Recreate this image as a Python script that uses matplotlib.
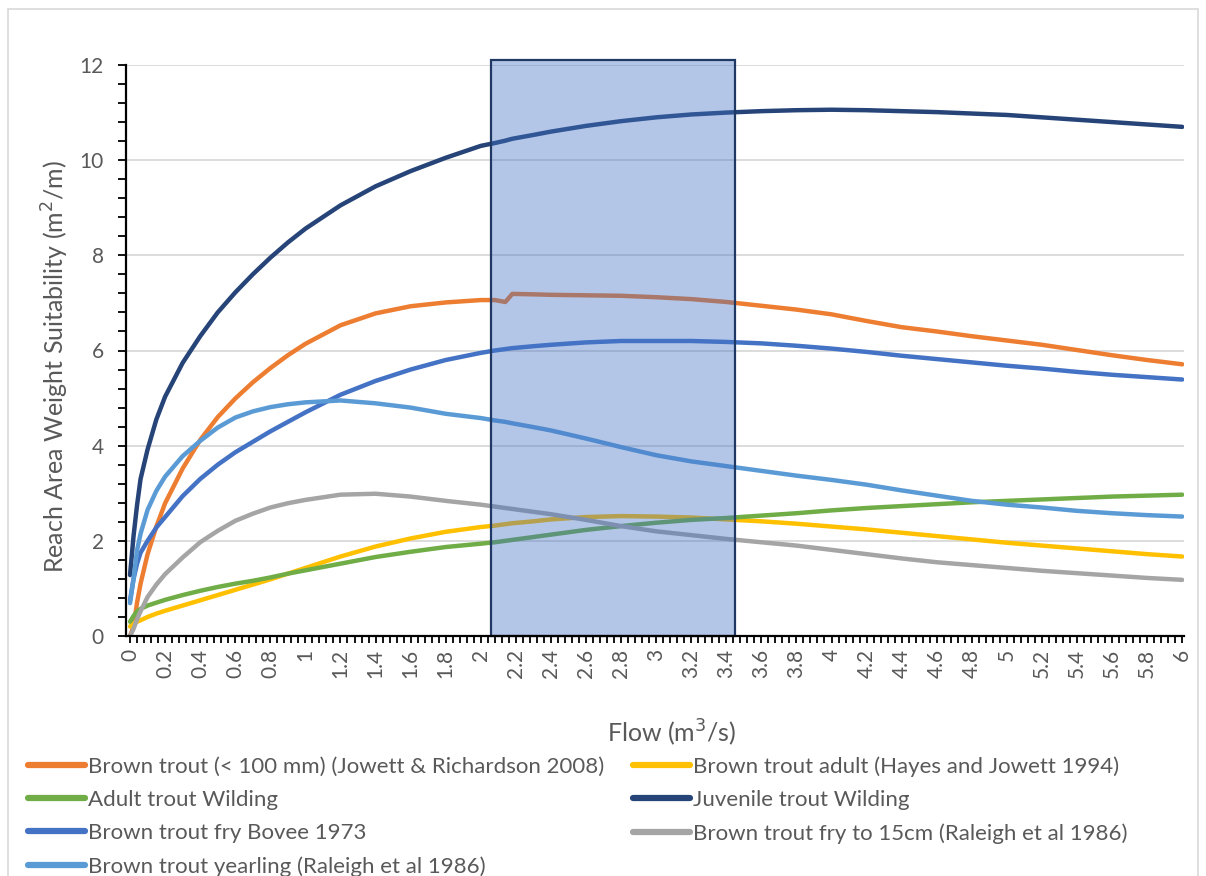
import matplotlib
matplotlib.use("Agg")
import matplotlib.pyplot as plt
import numpy as np
from matplotlib.patches import Rectangle
from matplotlib.colors import to_rgba
from matplotlib.ticker import MultipleLocator, FuncFormatter

plt.rcParams['font.family'] = ['Lato', 'DejaVu Sans']

# flow values (m3/s) shared by all series
flow = [0, 0.02, 0.04, 0.06, 0.1, 0.15, 0.2, 0.3, 0.4, 0.5, 0.6, 0.7, 0.8, 0.9, 1.0,
        1.2, 1.4, 1.6, 1.8, 2.0, 2.08, 2.14, 2.18, 2.3, 2.4, 2.6, 2.8, 3.0, 3.2, 3.4,
        3.6, 3.8, 4.0, 4.2, 4.4, 4.6, 4.8, 5.0, 5.2, 5.4, 5.6, 5.8, 6.0]

brown_lt100 = [0.0, 0.2, 0.7, 1.1, 1.72, 2.3, 2.79, 3.52, 4.12, 4.6, 4.99, 5.33, 5.63, 5.9, 6.14,
               6.53, 6.78, 6.93, 7.01, 7.06, 7.06, 7.02, 7.19, 7.18, 7.17, 7.16, 7.15, 7.12, 7.08, 7.02,
               6.94, 6.86, 6.76, 6.62, 6.49, 6.4, 6.3, 6.21, 6.12, 6.01, 5.9, 5.8, 5.71]
brown_adult = [0.2, 0.26, 0.3, 0.33, 0.4, 0.47, 0.53, 0.64, 0.75, 0.86, 0.97, 1.08, 1.19, 1.31, 1.43,
               1.67, 1.88, 2.05, 2.19, 2.29, 2.32, 2.35, 2.37, 2.41, 2.45, 2.5, 2.52, 2.51, 2.49, 2.45,
               2.41, 2.36, 2.3, 2.24, 2.17, 2.1, 2.03, 1.96, 1.9, 1.84, 1.78, 1.72, 1.67]
adult_wilding = [0.3, 0.42, 0.52, 0.57, 0.64, 0.7, 0.76, 0.86, 0.95, 1.03, 1.1, 1.16, 1.23, 1.31, 1.38,
                 1.52, 1.66, 1.77, 1.87, 1.94, 1.97, 2.0, 2.02, 2.08, 2.13, 2.23, 2.31, 2.38, 2.44, 2.48,
                 2.53, 2.58, 2.64, 2.69, 2.73, 2.77, 2.81, 2.84, 2.87, 2.9, 2.93, 2.95, 2.97]
juvenile_wilding = [1.28, 2.1, 2.75, 3.3, 3.92, 4.55, 5.03, 5.74, 6.3, 6.8, 7.22, 7.6, 7.95, 8.27, 8.56,
                    9.05, 9.45, 9.77, 10.05, 10.3, 10.36, 10.41, 10.45, 10.53, 10.6, 10.72, 10.82, 10.9, 10.96, 11.0,
                    11.03, 11.05, 11.06, 11.05, 11.03, 11.01, 10.98, 10.95, 10.9, 10.85, 10.8, 10.75, 10.7]
fry_bovee = [0.75, 1.2, 1.52, 1.75, 2.0, 2.28, 2.5, 2.94, 3.3, 3.6, 3.86, 4.08, 4.3, 4.5, 4.7,
             5.07, 5.36, 5.6, 5.8, 5.95, 6.0, 6.03, 6.05, 6.09, 6.12, 6.17, 6.2, 6.2, 6.2, 6.18,
             6.15, 6.1, 6.04, 5.97, 5.89, 5.82, 5.75, 5.68, 5.62, 5.55, 5.49, 5.44, 5.39]
fry_15cm = [0.0, 0.15, 0.35, 0.52, 0.82, 1.08, 1.3, 1.65, 1.97, 2.21, 2.42, 2.57, 2.7, 2.79, 2.86,
            2.97, 2.99, 2.93, 2.84, 2.76, 2.72, 2.69, 2.67, 2.61, 2.56, 2.44, 2.31, 2.2, 2.12, 2.04,
            1.97, 1.9, 1.81, 1.72, 1.63, 1.55, 1.49, 1.43, 1.37, 1.32, 1.27, 1.22, 1.18]
yearling = [0.69, 1.2, 1.8, 2.15, 2.65, 3.05, 3.35, 3.78, 4.1, 4.38, 4.59, 4.72, 4.81, 4.87, 4.91,
            4.95, 4.89, 4.8, 4.67, 4.58, 4.53, 4.5, 4.47, 4.39, 4.32, 4.15, 3.97, 3.8, 3.67, 3.57,
            3.47, 3.37, 3.28, 3.18, 3.06, 2.95, 2.84, 2.76, 2.7, 2.63, 2.58, 2.54, 2.51]

series = [
    ("Brown trout (< 100 mm) (Jowett & Richardson 2008)", brown_lt100, '#ED7D31'),
    ("Brown trout adult (Hayes and Jowett 1994)", brown_adult, '#FFC000'),
    ("Adult trout Wilding", adult_wilding, '#70AD47'),
    ("Juvenile trout Wilding", juvenile_wilding, '#264478'),
    ("Brown trout fry Bovee 1973", fry_bovee, '#4472C4'),
    ("Brown trout fry to 15cm (Raleigh et al 1986)", fry_15cm, '#A5A5A5'),
    ("Brown trout yearling (Raleigh et al 1986)", yearling, '#5B9BD5'),
]

# highlighted flow band
band_start, band_end, band_top = 2.06, 3.45, 12.1

grey_txt = '#595959'

fig = plt.figure(figsize=(12.06, 8.76), dpi=100)
# outer chart frame
fig.patches.append(Rectangle((8/1206, -0.05), 1190/1206, 1.05 - 9/876, transform=fig.transFigure,
                             fill=False, edgecolor='#D9D9D9', linewidth=1.2))

ax = fig.add_axes([126/1206, 1 - 636/876, (1184 - 126)/1206, (636 - 65)/876])

lines = []
for name, vals, col in series:
    ln, = ax.plot(flow, vals, color=col, lw=3.2, label=name, solid_capstyle='round',
                  solid_joinstyle='round', zorder=3)
    lines.append(ln)

ax.add_patch(Rectangle((band_start, 0), band_end - band_start, band_top,
                       facecolor=to_rgba('#4472C4', 0.4), edgecolor='#1F3864',
                       linewidth=1.6, zorder=4, clip_on=False))

ax.set_xlim(-0.023, 6.01)
ax.set_ylim(0, 12)

ax.xaxis.set_major_locator(MultipleLocator(0.2))
ax.xaxis.set_minor_locator(MultipleLocator(0.04))
ax.xaxis.set_major_formatter(FuncFormatter(lambda v, p: '%g' % round(v, 1)))
ax.yaxis.set_major_locator(MultipleLocator(2))
ax.yaxis.set_minor_locator(MultipleLocator(0.4))

ax.tick_params(axis='x', which='both', direction='out', length=5, width=1.3, color='black',
               labelsize=15, labelcolor=grey_txt, labelrotation=90, pad=4)
ax.tick_params(axis='y', which='both', direction='out', length=6, width=1.3, color='black',
               labelsize=15, labelcolor=grey_txt, pad=10)

ax.grid(axis='y', which='major', color='#D9D9D9', lw=1.3, zorder=0)
ax.set_axisbelow(True)
for s in ['top', 'right']:
    ax.spines[s].set_visible(False)
for s in ['left', 'bottom']:
    ax.spines[s].set_linewidth(1.6)
    ax.spines[s].set_color('black')
    ax.spines[s].set_zorder(5)

fig.text(55/1206, 1 - 367/876, 'Reach Area Weight Suitability (m$^2$/m)', rotation=90,
         ha='center', va='center', fontsize=18, color=grey_txt)
fig.text(672/1206, 1 - 733/876, 'Flow (m$^3$/s)', ha='center', va='center',
         fontsize=18, color=grey_txt)

# legend in row-major order of the reference: fill columns manually
order = [0, 2, 4, 6, 1, 3, 5]
leg = fig.legend([lines[i] for i in order], [series[i][0] for i in order],
                 loc='upper left', bbox_to_anchor=(28/1206, 1 - 756/876), ncol=2,
                 frameon=False, fontsize=16, handlelength=2.55, handletextpad=0.15,
                 columnspacing=1.3, labelspacing=0.6, borderpad=0, borderaxespad=0)
for t in leg.get_texts():
    t.set_color(grey_txt)
for h in leg.legend_handles:
    h.set_linewidth(4.5)

fig.savefig('out.png', dpi=100)
